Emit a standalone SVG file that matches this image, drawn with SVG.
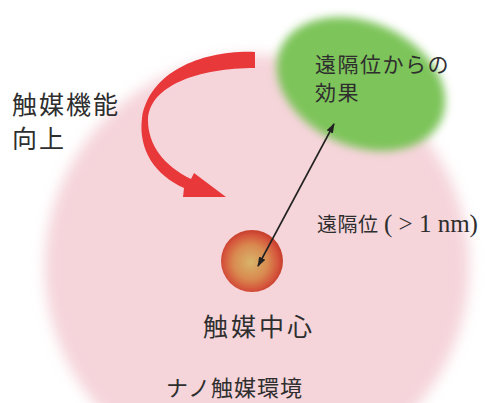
<svg xmlns="http://www.w3.org/2000/svg" width="485" height="403" viewBox="0 0 485 403">
  <defs>
    <filter id="blurBig" x="-20%" y="-20%" width="140%" height="140%">
      <feGaussianBlur stdDeviation="7"/>
    </filter>
    <filter id="blurSmall" x="-20%" y="-20%" width="140%" height="140%">
      <feGaussianBlur stdDeviation="4"/>
    </filter>
    <filter id="blurTiny" x="-10%" y="-10%" width="120%" height="120%">
      <feGaussianBlur stdDeviation="0.6"/>
    </filter>
    <radialGradient id="ballGrad" cx="0.48" cy="0.52" r="0.5">
      <stop offset="0" stop-color="#d8b56a"/>
      <stop offset="0.55" stop-color="#d98a50"/>
      <stop offset="0.9" stop-color="#d4523a"/>
      <stop offset="1" stop-color="#c9432f"/>
    </radialGradient>
    <marker id="arrowHead" viewBox="0 0 10 10" refX="9" refY="5" markerWidth="10" markerHeight="10" markerUnits="userSpaceOnUse" orient="auto-start-reverse">
      <path d="M0,1.5 L10,5 L0,8.5 Z" fill="#222"/>
    </marker>
    <style>
      .jp { font-family: "Noto Sans CJK JP", "Noto Sans", sans-serif; fill: #2e2e2e; }
      .serif { font-family: "Liberation Serif", "DejaVu Serif", serif; fill: #2e2e2e; }
    </style>
  </defs>

  <rect width="485" height="403" fill="#ffffff"/>

  <g id="environment">
    <circle cx="257" cy="267" r="212" fill="#f5d4da" filter="url(#blurBig)"/>
  </g>

  <g id="remote-site">
    <ellipse cx="361" cy="84" rx="88" ry="62" transform="rotate(24 361 84)" fill="#7dc45a" filter="url(#blurSmall)"/>
  </g>

  <g id="catalyst-center">
    <circle cx="252" cy="261" r="31" fill="url(#ballGrad)" filter="url(#blurTiny)"/>
  </g>

  <g id="connectors">
    <path id="enhance-arrow" d="M255,52 C205,50 150,70 142,118 C138,150 155,175 184,188 L183,197 L226,197 L194,173 L191,179 C164,166 148,145 148,120 C149,85 200,68 255,68 Z" fill="#e8383a"/>
    <line id="distance-arrow" x1="258" y1="266" x2="334" y2="124" stroke="#222" stroke-width="1.6" marker-start="url(#arrowHead)" marker-end="url(#arrowHead)"/>
  </g>

  <g id="labels">
    <text class="jp" x="315" y="72" font-size="21" letter-spacing="1.5">遠隔位からの</text>
    <text class="jp" x="315" y="100" font-size="21" letter-spacing="1.5">効果</text>
    <text class="jp" x="12" y="114" font-size="25" letter-spacing="2">触媒機能</text>
    <text class="jp" x="12" y="148" font-size="25" letter-spacing="2">向上</text>
    <text x="317" y="232"><tspan class="jp" font-size="20" letter-spacing="0.5">遠隔位</tspan><tspan class="serif" x="384" font-size="25">( &gt; 1 nm)</tspan></text>
    <text class="jp" x="203" y="336" font-size="25" letter-spacing="3">触媒中心</text>
    <text class="jp" x="166" y="396" font-size="22" letter-spacing="1">ナノ触媒環境</text>
  </g>
</svg>
